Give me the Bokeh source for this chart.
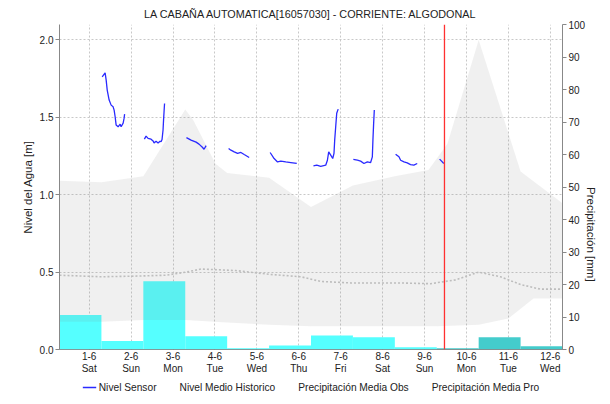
from bokeh.plotting import figure
from bokeh.layouts import column
from bokeh.models import (Range1d, LinearAxis, FixedTicker, Legend, LegendItem, Span,
                          PrintfTickFormatter)
from bokeh.embed import file_html
from bokeh.resources import INLINE

# ---------------- data ----------------
title_text = "LA CABAÑA AUTOMATICA[16057030] - CORRIENTE: ALGODONAL"
day_ticks = [0, 1, 2, 3, 4, 5, 6, 7, 8, 9, 10, 11]
date_labels = ["1-6", "2-6", "3-6", "4-6", "5-6", "6-6", "7-6", "8-6", "9-6", "10-6", "11-6", "12-6"]
weekday_labels = ["Sat", "Sun", "Mon", "Tue", "Wed", "Thu", "Fri", "Sat", "Sun", "Mon", "Tue", "Wed"]
day_start_offset = 17 / 24.0          # hydrological day starts at 07:00 of the previous day
n_days = 12
left_ticks = [0.0, 0.5, 1.0, 1.5, 2.0]
right_ticks = [0, 10, 20, 30, 40, 50, 60, 70, 80, 90, 100]

# precipitation (mm) per day bar
precip_obs = [10.6, 2.6, 21.0, 4.1, 0.4, 1.2, 4.3, 3.8, 0.7]
precip_pro = [0.4, 3.8, 1.0]

# historical envelope (m)
band_up_x = [-0.708, 0.292, 1.292, 2.292, 2.488, 3.013, 3.292, 4.292, 5.292, 6.292,
             7.292, 8.094, 8.547, 9.292, 10.292, 11.292]
band_up_y = [1.09, 1.08, 1.12, 1.55, 1.48, 1.20, 1.14, 1.11, 0.92, 1.06,
             1.12, 1.16, 1.33, 2.00, 1.15, 0.945]
band_lo_x = [-0.708, 0.292, 1.292, 2.292, 3.292, 4.292, 5.292, 6.292, 7.292, 8.292,
             9.292, 10.0, 10.6, 11.292]
band_lo_y = [0.18, 0.18, 0.19, 0.19, 0.175, 0.16, 0.15, 0.15, 0.15, 0.15,
             0.16, 0.20, 0.33, 0.33]

# historical mean level (m)
hist_x = [-0.708, 0.29, 1.24, 1.83, 2.31, 2.67, 3.5, 4.33, 5.05, 5.52, 6.24, 7.43,
          8.14, 8.74, 9.29, 9.81, 10.29, 10.76, 11.292]
hist_y = [0.48, 0.47, 0.475, 0.48, 0.50, 0.52, 0.51, 0.485, 0.47, 0.44, 0.43, 0.43,
          0.425, 0.45, 0.50, 0.47, 0.42, 0.39, 0.39]

# sensor level (m), one segment per day
sensor_x = [
    [0.31, 0.38, 0.405, 0.43, 0.476, 0.524, 0.571, 0.595, 0.619, 0.643, 0.69, 0.738, 0.762, 0.81, 0.833, 0.845],
    [1.317, 1.357, 1.405, 1.476, 1.524, 1.548, 1.595, 1.643, 1.69, 1.714, 1.738, 1.762, 1.774, 1.786, 1.798],
    [2.32, 2.43, 2.55, 2.62, 2.70, 2.74, 2.79],
    [3.326, 3.381, 3.46, 3.54, 3.619, 3.698, 3.817],
    [4.317, 4.412, 4.493, 4.571, 4.69, 4.81, 4.952],
    [5.35, 5.43, 5.524, 5.643, 5.683, 5.714, 5.762, 5.81, 5.84, 5.857, 5.881, 5.905, 5.94],
    [6.302, 6.398, 6.476, 6.555, 6.636, 6.714, 6.755, 6.769, 6.786, 6.802],
    [7.31, 7.39, 7.43, 7.51, 7.588, 7.667, 7.745, 7.826],
    [8.36, 8.46],
]
sensor_y = [
    [1.762, 1.788, 1.741, 1.676, 1.612, 1.579, 1.568, 1.547, 1.504, 1.450, 1.439, 1.456, 1.439, 1.463, 1.495, 1.521],
    [1.359, 1.379, 1.364, 1.359, 1.348, 1.335, 1.346, 1.335, 1.346, 1.342, 1.357, 1.418, 1.482, 1.536, 1.590],
    [1.369, 1.353, 1.340, 1.327, 1.307, 1.294, 1.317],
    [1.299, 1.288, 1.277, 1.267, 1.273, 1.260, 1.241],
    [1.273, 1.234, 1.212, 1.217, 1.212, 1.208, 1.202],
    [1.186, 1.191, 1.184, 1.191, 1.223, 1.277, 1.256, 1.234, 1.267, 1.353, 1.439, 1.526, 1.553],
    [1.228, 1.223, 1.217, 1.202, 1.212, 1.208, 1.245, 1.353, 1.461, 1.547],
    [1.262, 1.245, 1.223, 1.212, 1.206, 1.195, 1.191, 1.202],
    [1.23, 1.202],
]
now_day = 8.476

# ---------------- figure ----------------
FONT = "Liberation Sans"
TICK_FS = "10px"
SENS_COLOR = "#2a2aff"
HIST_COLOR = "#bdbdbd"
OBS_COLOR = "#55ffff"
PRO_COLOR = "#44cccc"
x0 = -day_start_offset
p = figure(frame_width=503, frame_height=325,
           x_range=Range1d(x0, x0 + n_days), y_range=Range1d(0, 2.1),
           output_backend="svg", toolbar_location=None,
           min_border_left=59, min_border_right=40, min_border_top=24, min_border_bottom=0)
p.extra_y_ranges = {"precip": Range1d(0, 100)}
p.outline_line_color = None
p.background_fill_color = "white"

p.title.text = title_text
p.title.align = "center"
p.title.text_font = FONT
p.title.text_font_size = "10.8px"
p.title.text_font_style = "normal"
p.title.text_color = "#222222"

# bars
obs_left = [x0 + i for i in range(len(precip_obs))]
obs_right = [x0 + i + 1 for i in range(len(precip_obs))]
pro_left = [x0 + len(precip_obs) + i for i in range(len(precip_pro))]
pro_right = [x0 + len(precip_obs) + i + 1 for i in range(len(precip_pro))]
p.quad(left=obs_left, right=obs_right, bottom=0, top=precip_obs,
       fill_color=OBS_COLOR, line_color=None, y_range_name="precip")
p.quad(left=pro_left, right=pro_right, bottom=0, top=precip_pro,
       fill_color=PRO_COLOR, line_color=None, y_range_name="precip")

# envelope
p.patch(band_up_x + band_lo_x[::-1], band_up_y + band_lo_y[::-1],
        fill_color="#808080", fill_alpha=0.12, line_color=None)

p.line(hist_x, hist_y, line_color=HIST_COLOR, line_width=1.6, line_dash="2 2")
p.multi_line(sensor_x, sensor_y, line_color=SENS_COLOR, line_width=1.3)

p.add_layout(Span(location=now_day, dimension="height", line_color="#ff3030", line_width=1.3))

# x axes: dates, then weekday names underneath
p.xaxis.ticker = FixedTicker(ticks=day_ticks)
p.xaxis.major_label_overrides = {t: l for t, l in zip(day_ticks, date_labels)}
p.xaxis.axis_line_color = "#333333"
p.xaxis.axis_line_dash = "1 1"
p.xaxis.major_tick_line_color = None
p.xaxis.major_tick_out = 0
p.xaxis.major_tick_in = 0
p.xaxis.minor_tick_line_color = None
p.xaxis.minor_tick_out = 0
p.xaxis.major_label_standoff = 2
p.xaxis.major_label_text_font = FONT
p.xaxis.major_label_text_font_size = TICK_FS
p.xaxis.major_label_text_color = "#222222"

wx = LinearAxis(ticker=FixedTicker(ticks=day_ticks))
wx.major_label_overrides = {t: l for t, l in zip(day_ticks, weekday_labels)}
wx.axis_line_color = None
wx.major_tick_line_color = None
wx.major_tick_out = 0
wx.major_tick_in = 0
wx.minor_tick_line_color = None
wx.minor_tick_out = 0
wx.major_label_standoff = 0
wx.major_label_text_font = FONT
wx.major_label_text_font_size = TICK_FS
wx.major_label_text_color = "#222222"
p.add_layout(wx, "below")

p.yaxis.ticker = FixedTicker(ticks=left_ticks)
p.yaxis.formatter = PrintfTickFormatter(format="%.1f")
p.yaxis.axis_label = "Nivel del Agua [m]"
p.yaxis.axis_label_text_font = FONT
p.yaxis.axis_label_text_font_size = "11.5px"
p.yaxis.axis_label_text_font_style = "normal"
p.yaxis.axis_label_text_color = "#222222"
p.yaxis.axis_label_standoff = 3
p.yaxis.major_label_text_font = FONT
p.yaxis.major_label_text_font_size = TICK_FS
p.yaxis.major_label_text_color = "#222222"
p.yaxis.axis_line_color = "#888888"
p.yaxis.major_tick_line_color = "#888888"
p.yaxis.major_tick_out = 4
p.yaxis.major_tick_in = 0
p.yaxis.minor_tick_line_color = None
p.yaxis.major_label_standoff = 2

ra = LinearAxis(y_range_name="precip", ticker=FixedTicker(ticks=right_ticks),
                axis_label="Precipitación [mm]")
ra.axis_label_text_font = FONT
ra.axis_label_text_font_size = "11.5px"
ra.axis_label_text_font_style = "normal"
ra.axis_label_text_color = "#222222"
ra.axis_label_standoff = 3
ra.major_label_text_font = FONT
ra.major_label_text_font_size = TICK_FS
ra.major_label_text_color = "#222222"
ra.axis_line_color = "#888888"
ra.major_tick_line_color = "#888888"
ra.major_tick_out = 4
ra.major_tick_in = 0
ra.minor_tick_line_color = None
ra.major_label_standoff = 2
if "axis_label_orientation" in ra.properties():
    ra.axis_label_orientation = -1.5707963
p.add_layout(ra, "right")

for g in (p.xgrid, p.ygrid):
    g.grid_line_color = "#c8c8c8"
    g.grid_line_dash = "2 2"
    g.grid_line_width = 1
p.xgrid.ticker = FixedTicker(ticks=day_ticks)
p.ygrid.ticker = FixedTicker(ticks=left_ticks)

# ---------------- legend strip (separate small figure) ----------------
lf = figure(frame_width=503, frame_height=22, x_range=Range1d(0, 1), y_range=Range1d(0, 1),
            output_backend="svg", toolbar_location=None,
            x_axis_location=None, y_axis_location=None,
            min_border_left=59, min_border_right=40, min_border_top=0, min_border_bottom=0)
lf.outline_line_color = None
lf.grid.visible = False
l_sens = lf.multi_line(xs=[[]], ys=[[]], line_color=SENS_COLOR, line_width=1.3)
l_hist = lf.line(x=[], y=[], line_color=HIST_COLOR, line_width=1.6, line_dash="2 2")
l_obs = lf.quad(left=[], right=[], bottom=[], top=[], fill_color=OBS_COLOR, line_color=None)
l_pro = lf.quad(left=[], right=[], bottom=[], top=[], fill_color=PRO_COLOR, line_color=None)

legend = Legend(items=[
    LegendItem(label="Nivel Sensor", renderers=[l_sens]),
    LegendItem(label="Nivel Medio Historico", renderers=[l_hist]),
    LegendItem(label="Precipitación Media Obs", renderers=[l_obs]),
    LegendItem(label="Precipitación Media Pro", renderers=[l_pro]),
], orientation="horizontal", location="center")
legend.border_line_color = None
legend.background_fill_alpha = 0
legend.label_text_font = FONT
legend.label_text_font_size = "10.2px"
legend.label_text_color = "#222222"
legend.glyph_width = 14
legend.glyph_height = 11
legend.label_standoff = 3
legend.spacing = 6
legend.padding = 0
legend.margin = 0
legend.label_height = 11
lf.add_layout(legend)

layout = column(p, lf, spacing=0)
open("out.html", "w").write(file_html(layout, INLINE))
